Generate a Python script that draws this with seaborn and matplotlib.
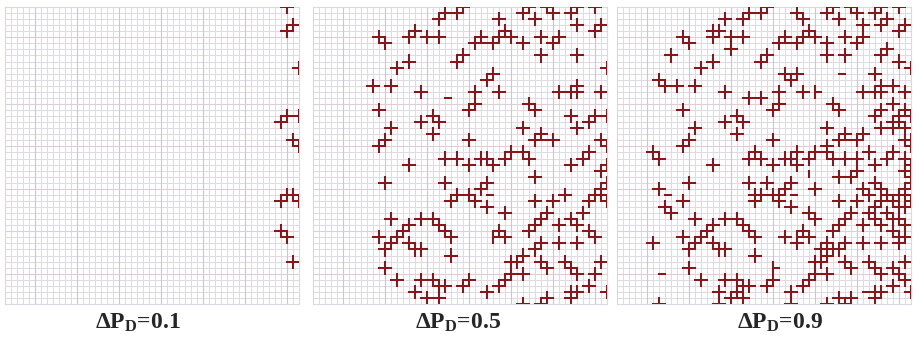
import numpy as np
import pandas as pd
import matplotlib
matplotlib.use("Agg")
import matplotlib.pyplot as plt
from matplotlib.colors import ListedColormap
import seaborn as sns

sns.set_style("white")
plt.rcParams["font.family"] = ["Liberation Serif", "DejaVu Serif"]
plt.rcParams["mathtext.fontset"] = "custom"
plt.rcParams["mathtext.rm"] = "Liberation Serif:bold"
plt.rcParams["mathtext.it"] = "Liberation Serif:bold"
plt.rcParams["mathtext.bf"] = "Liberation Serif:bold"

N_CELLS = 49
stage_labels = ["0.1", "0.5", "0.9"]

# damaged lattice nodes (column, row) that first appear at each load stage;
# every damaged node draws a cross of four broken links
nodes_01 = [(47, 0), (47, 4), (48, 3), (49, 10), (46, 19), (47, 18), (49, 18),
            (48, 22), (49, 23), (46, 32), (47, 31), (48, 31), (49, 32),
            (46, 37), (47, 38), (48, 42)]

nodes_05 = [(21, 2), (22, 1), (24, 1), (25, 0), (31, 2), (35, 1), (36, 0), (37, 2),
            (39, 0), (40, 1), (43, 1), (44, 0), (44, 3),
            (11, 5), (12, 6), (16, 5), (17, 4), (19, 5), (21, 5), (27, 6), (28, 5),
            (30, 6), (31, 5), (32, 4), (33, 5), (35, 6), (38, 5), (40, 6), (41, 5),
            (38, 8), (44, 8), (14, 10), (16, 9), (24, 9), (25, 8),
            (10, 13), (13, 13), (18, 14), (27, 14), (29, 12), (30, 11), (31, 14),
            (41, 14), (43, 14), (44, 13), (44, 14), (48, 14),
            (11, 17), (36, 16), (37, 17), (26, 17), (27, 16), (43, 18),
            (13, 20), (18, 19), (20, 18), (21, 19), (20, 21), (11, 23), (12, 22),
            (26, 22), (35, 20), (37, 22), (38, 21), (40, 22), (44, 20),
            (22, 25), (24, 25), (26, 26), (28, 25), (29, 25), (30, 26), (32, 25),
            (33, 24), (35, 24), (36, 25), (16, 26), (43, 26), (45, 25), (46, 24),
            (48, 27), (49, 26),
            (12, 29), (22, 29), (23, 32), (24, 31), (26, 31), (27, 32), (28, 30),
            (29, 29), (29, 33), (37, 28), (37, 32), (40, 32), (42, 31), (48, 30),
            (49, 29),
            (32, 34), (13, 35), (15, 37), (16, 36), (18, 35), (20, 35), (21, 36),
            (22, 37), (23, 38), (11, 38), (12, 40), (13, 39), (14, 38), (36, 37),
            (37, 36), (38, 35), (39, 34), (41, 36), (43, 35), (44, 36), (45, 34),
            (31, 37), (32, 38),
            (16, 39), (17, 40), (18, 40), (23, 41), (12, 43), (34, 42), (35, 41),
            (33, 42), (37, 40), (38, 39), (38, 42), (41, 39), (44, 39), (39, 43),
            (42, 42), (43, 43),
            (14, 45), (18, 45), (20, 45), (21, 46), (22, 46), (25, 46), (26, 45),
            (29, 47), (31, 46), (32, 45), (33, 44), (35, 44), (44, 44), (47, 44),
            (46, 46), (17, 47), (19, 48), (21, 48), (35, 49), (38, 49), (39, 48),
            (43, 48), (44, 47), (43, 47), (49, 47)]

nodes_09 = [(18, 2), (30, 1), (41, 3), (45, 2), (16, 4), (19, 7), (9, 8), (35, 8),
            (45, 7), (47, 9), (43, 11), (7, 12), (8, 13), (22, 15), (24, 15),
            (28, 11), (46, 13), (44, 17), (46, 16), (48, 17), (47, 19), (48, 20),
            (46, 20), (41, 21), (49, 22), (6, 24), (7, 25), (23, 24), (30, 24),
            (35, 23), (38, 25), (40, 25), (42, 24), (48, 25), (49, 28), (7, 30),
            (11, 32), (8, 33), (9, 34), (25, 29), (23, 31), (27, 31), (33, 30),
            (33, 35), (39, 28), (40, 27), (41, 30), (43, 29), (44, 30), (45, 31),
            (44, 32), (46, 32), (47, 33), (48, 33), (43, 33), (42, 34), (47, 35),
            (48, 36), (46, 35), (6, 39), (28, 38), (30, 39), (35, 39), (36, 40),
            (34, 40), (47, 39), (48, 38), (46, 43), (20, 47), (17, 49), (29, 49),
            (37, 48), (48, 45), (7, 49)]

# isolated broken links: horizontal (col, row)->(col+1, row), vertical (col, row)->(col, row+1)
hlinks_05 = [(28, 6), (22, 15), (38, 22), (29, 31), (30, 38)]
vlinks_05 = [(30, 37), (30, 38)]
hlinks_09 = [(37, 11), (33, 14), (8, 31), (7, 44), (41, 47), (26, 43)]
vlinks_09 = [(33, 13), (33, 14), (32, 27), (26, 42), (26, 43)]

stage_nodes = [nodes_01, nodes_05, nodes_09]
stage_hlinks = [[], hlinks_05, hlinks_09]
stage_vlinks = [[], vlinks_05, vlinks_09]

# light lattice guide lines
major_cols = [5, 12, 19, 26, 33, 40, 47]
major_rows = [5, 16, 23, 30, 37, 44]

crack_color = "#8c1519"
grid_color = "#dfdae6"


def crack_links(nodes, hl, vl):
    links = set()
    for (i, j) in nodes:
        for (a, b) in [(i - 1, j), (i + 1, j), (i, j - 1), (i, j + 1)]:
            if 0 <= a <= N_CELLS and 0 <= b <= N_CELLS:
                links.add(tuple(sorted([(i, j), (a, b)])))
    for (i, j) in hl:
        links.add(((i, j), (i + 1, j)))
    for (i, j) in vl:
        links.add(((i, j), (i, j + 1)))
    rows = []
    for k, (p, q) in enumerate(sorted(links)):
        rows.append({"link": k, "x": p[0], "y": p[1]})
        rows.append({"link": k, "x": q[0], "y": q[1]})
    return pd.DataFrame(rows)


W, H = 916, 339
fig = plt.figure(figsize=(W / 100, H / 100), dpi=100)
panel_left = [5, 313, 617]
panel_w, panel_top, panel_h = 294, 7, 297
label_x = [138, 458, 780]

blank = np.zeros((N_CELLS, N_CELLS))
acc_nodes, acc_h, acc_v = [], [], []
for s in range(3):
    acc_nodes = acc_nodes + stage_nodes[s]
    acc_h = acc_h + stage_hlinks[s]
    acc_v = acc_v + stage_vlinks[s]
    ax = fig.add_axes([panel_left[s] / W, (H - panel_top - panel_h) / H,
                       panel_w / W, panel_h / H])
    sns.heatmap(blank, cmap=ListedColormap(["white"]), cbar=False,
                linewidths=0.7, linecolor=grid_color,
                xticklabels=False, yticklabels=False, ax=ax)
    for c in major_cols:
        ax.axvline(c, color="#c9c7d6", lw=0.8, zorder=2)
    for r in major_rows:
        ax.axhline(r, color="#e0cdd5", lw=0.8, zorder=2)
    df = crack_links(acc_nodes, acc_h, acc_v)
    sns.lineplot(data=df, x="x", y="y", units="link", estimator=None, sort=False,
                 color=crack_color, linewidth=1.45, solid_capstyle="projecting",
                 legend=False, ax=ax, zorder=3)
    ax.set_xlim(0, N_CELLS)
    ax.set_ylim(N_CELLS, 0)
    ax.set_xlabel("")
    ax.set_ylabel("")
    ax.set_xticks([])
    ax.set_yticks([])
    for sp in ax.spines.values():
        sp.set_visible(True)
        sp.set_color("#dcd8e2")
        sp.set_linewidth(0.8)
    fig.text(label_x[s] / W, (H - 323) / H,
             r"$\Delta$P$_{\mathrm{D}}$=" + stage_labels[s],
             ha="center", va="center", fontsize=17, fontweight="bold")

fig.savefig("out.png", dpi=100)
